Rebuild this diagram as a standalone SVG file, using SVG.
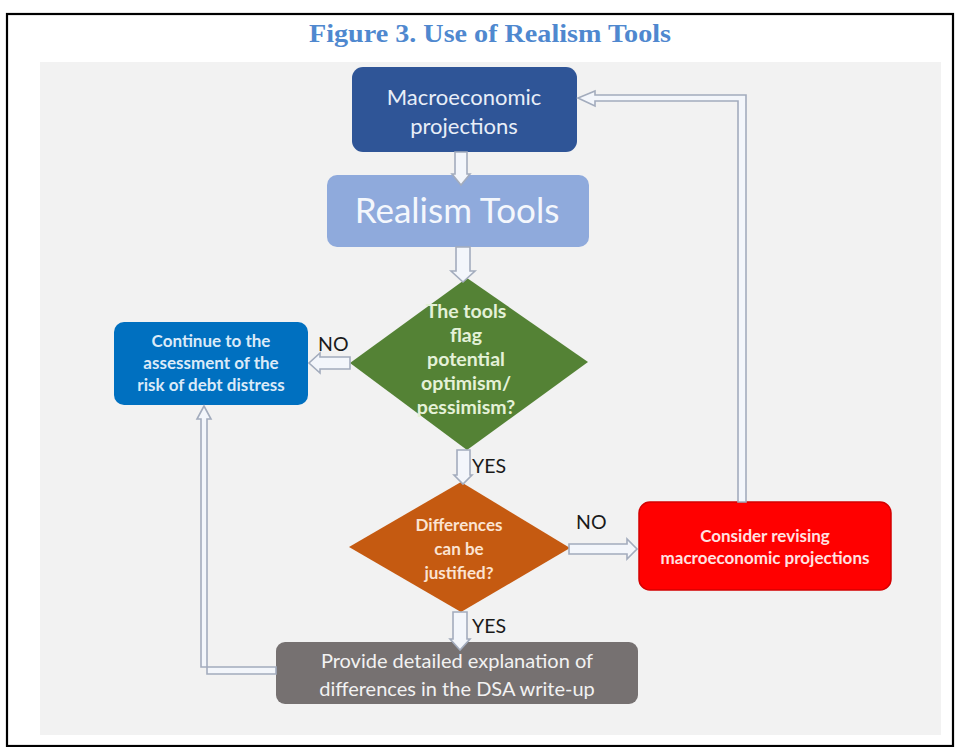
<svg xmlns="http://www.w3.org/2000/svg" width="956" height="747" viewBox="0 0 956 747">
<style>
.lbl{font-family:"Lato","Open Sans","Liberation Sans",sans-serif;font-size:19.5px;fill:#1a1a1a}
.t{font-family:"Lato","Open Sans","Liberation Sans",sans-serif;text-anchor:middle}
.b{font-weight:bold}
.conn{fill:#f3f6fb;stroke:#a3acbd;stroke-width:1.6;stroke-linejoin:miter}
</style>
<rect x="0" y="0" width="956" height="747" fill="#ffffff"/>
<rect x="7" y="14" width="946" height="732" fill="none" stroke="#000" stroke-width="2.2"/>
<text x="490" y="42" text-anchor="middle" font-family="Liberation Serif,serif" font-weight="bold" font-size="26" textLength="362" lengthAdjust="spacingAndGlyphs" fill="#4f88cf">Figure 3. Use of Realism Tools</text>
<rect x="40" y="62" width="901" height="673" fill="#f2f2f2"/>

<g id="macro">
<rect x="352" y="67" width="225" height="85" rx="11" fill="#2f5597"/>
<text class="t" x="464" y="105" font-size="22" fill="#e8eef8">Macroeconomic</text>
<text class="t" x="464" y="134" font-size="22" fill="#e8eef8">projections</text>
</g>
<g id="realism">
<rect x="327" y="175" width="262" height="72" rx="10" fill="#8faadc"/>
<text class="t" x="457" y="223" font-size="35" fill="#f4f7fc">Realism Tools</text>
</g>
<g id="flag">
<polygon points="467,278 588,362 467,450 350,363" fill="#548235"/>
<g class="t b" font-size="19.5" fill="#e4f1d8">
<text x="466" y="318">The tools</text>
<text x="466" y="342">flag</text>
<text x="466" y="366">potential</text>
<text x="466" y="390">optimism/</text>
<text x="466" y="414">pessimism?</text>
</g>
</g>
<g id="continue">
<rect x="114" y="322" width="194" height="83" rx="10" fill="#0070c0"/>
<g class="t b" font-size="17" fill="#dbeaf8">
<text x="211" y="347">Continue to the</text>
<text x="211" y="369">assessment of the</text>
<text x="211" y="391">risk of debt distress</text>
</g>
</g>
<g id="justified">
<polygon points="461,482 570,548 461,612 349,547" fill="#c55a11"/>
<g class="t b" font-size="17" fill="#fbe3d2">
<text x="459" y="531">Differences</text>
<text x="459" y="555">can be</text>
<text x="459" y="579">justified?</text>
</g>
</g>
<g id="revise">
<rect x="639" y="502" width="252" height="88" rx="11" fill="#ff0000" stroke="#d40000" stroke-width="1.5"/>
<g class="t b" font-size="17" fill="#ffe2e2">
<text x="765" y="542">Consider revising</text>
<text x="765" y="564">macroeconomic projections</text>
</g>
</g>
<g id="explain">
<rect x="276" y="642" width="362" height="62" rx="9" fill="#767171"/>
<g class="t" font-size="20" fill="#f2f2f2">
<text x="457" y="668">Provide detailed explanation of</text>
<text x="457" y="696">differences in the DSA write-up</text>
</g>
</g>

<g id="connectors">
<polygon class="conn" points="455,152 467,152 467,174 470,174 461,185 452,174 455,174"/>
<polygon class="conn" points="456,247 470,247 470,271 475,271 463,282 451,271 456,271"/>
<polygon class="conn" points="350,357 350,369 320,369 320,373 309,363 320,353 320,357"/>
<polygon class="conn" points="457,450 470,450 470,475 472,475 463,484 454,475 457,475"/>
<polygon class="conn" points="569,544 569,554 627,554 627,559 637,549 627,539 627,544"/>
<polygon class="conn" points="453,612 467,612 467,639 470,639 460,650 450,639 453,639"/>
<polygon class="conn" points="276,667 201,667 201,419 197,419 204,406 211,419 207,419 207,674 276,674"/>
<polygon class="conn" points="738,502 738,101 595,101 595,106 578,98 595,91 595,95 746,95 746,502"/>
<text class="lbl" x="318" y="351">NO</text>
<text class="lbl" x="472" y="473">YES</text>
<text class="lbl" x="576" y="529">NO</text>
<text class="lbl" x="472" y="633">YES</text>
</g>
</svg>
